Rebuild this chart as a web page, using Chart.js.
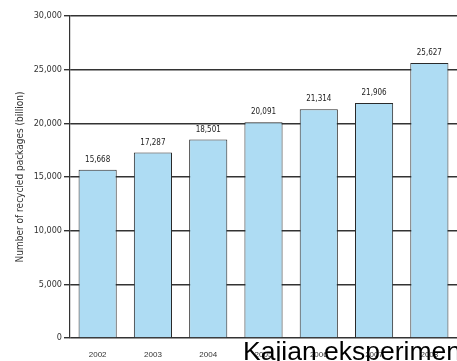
<!DOCTYPE html>
<html lang="en">
<head>
  <meta charset="UTF-8" />
  <title>Recycled packages</title>
  <script src="https://cdn.jsdelivr.net/npm/chart.js"></script>
  <style>
    html, body { margin: 0; padding: 0; background: #fff; overflow: hidden; }
    .wrap { position: relative; width: 457px; height: 361px; overflow: hidden; }
    .watermark { position: absolute; left: 243px; top: 337.5px; font-family: "Liberation Sans", Arial, sans-serif; font-size: 26.5px; color: #000; white-space: nowrap; line-height: 26.5px; }
  </style>
</head>
<body>
  <div class="wrap">
    <canvas id="chart" width="457" height="361"></canvas>
    <div class="watermark">Kajian eksperimen</div>
  </div>
  <script>
    // data
    const years = ['2002', '2003', '2004', '2005', '2006', '2007', '2008'];
    const packages = [15668, 17287, 18501, 20091, 21314, 21906, 25627];
    const yTicks = [0, 5000, 10000, 15000, 20000, 25000, 30000];

    const fmt = v => v.toLocaleString('en-US');

    // value labels above each bar
    const valueLabels = {
      id: 'valueLabels',
      afterDatasetsDraw(chart) {
        const ctx = chart.ctx;
        const meta = chart.getDatasetMeta(0);
        ctx.save();
        ctx.font = '8px "Liberation Sans Narrow", "DejaVu Sans Condensed", sans-serif';
        ctx.fillStyle = '#222';
        ctx.textAlign = 'center';
        ctx.textBaseline = 'bottom';
        meta.data.forEach((bar, i) => {
          ctx.fillText(fmt(packages[i]), bar.x, bar.y - 6);
        });
        ctx.restore();
      }
    };

    new Chart(document.getElementById('chart'), {
      type: 'bar',
      data: {
        labels: years,
        datasets: [{
          data: packages,
          backgroundColor: '#aedcf3',
          borderColor: '#2a2a2a',
          borderWidth: 1,
          categoryPercentage: 1,
          barPercentage: 0.69
        }]
      },
      options: {
        responsive: false,
        animation: false,
        layout: { padding: { top: 16, right: 0, bottom: 0, left: 0 } },
        plugins: { legend: { display: false }, tooltip: { enabled: false } },
        scales: {
          x: {
            grid: { display: false, drawTicks: false },
            border: { display: false },
            ticks: { color: '#333', font: { size: 8, family: '"Liberation Sans Narrow", sans-serif' }, padding: 12 },
            afterFit(scale) { scale.height = 23; }
          },
          y: {
            min: 0,
            max: 30000,
            afterBuildTicks(scale) { scale.ticks = yTicks.map(v => ({ value: v })); },
            grid: { color: '#333', lineWidth: 1.4, tickLength: 6, tickColor: '#333' },
            border: { display: true, color: '#333', width: 1.2 },
            ticks: {
              color: '#333',
              padding: 2,
              font: { size: 9, family: '"Liberation Sans Narrow", "DejaVu Sans Condensed", sans-serif' },
              callback: v => fmt(v)
            },
            title: {
              display: true,
              text: 'Number of recycled packages (billion)',
              color: '#333',
              font: { size: 10, family: '"Liberation Sans Narrow", "DejaVu Sans Condensed", sans-serif' },
              padding: { top: 14, bottom: 0 }
            },
            afterFit(scale) { scale.width = 70; }
          }
        }
      },
      plugins: [valueLabels]
    });
  </script>
</body>
</html>
